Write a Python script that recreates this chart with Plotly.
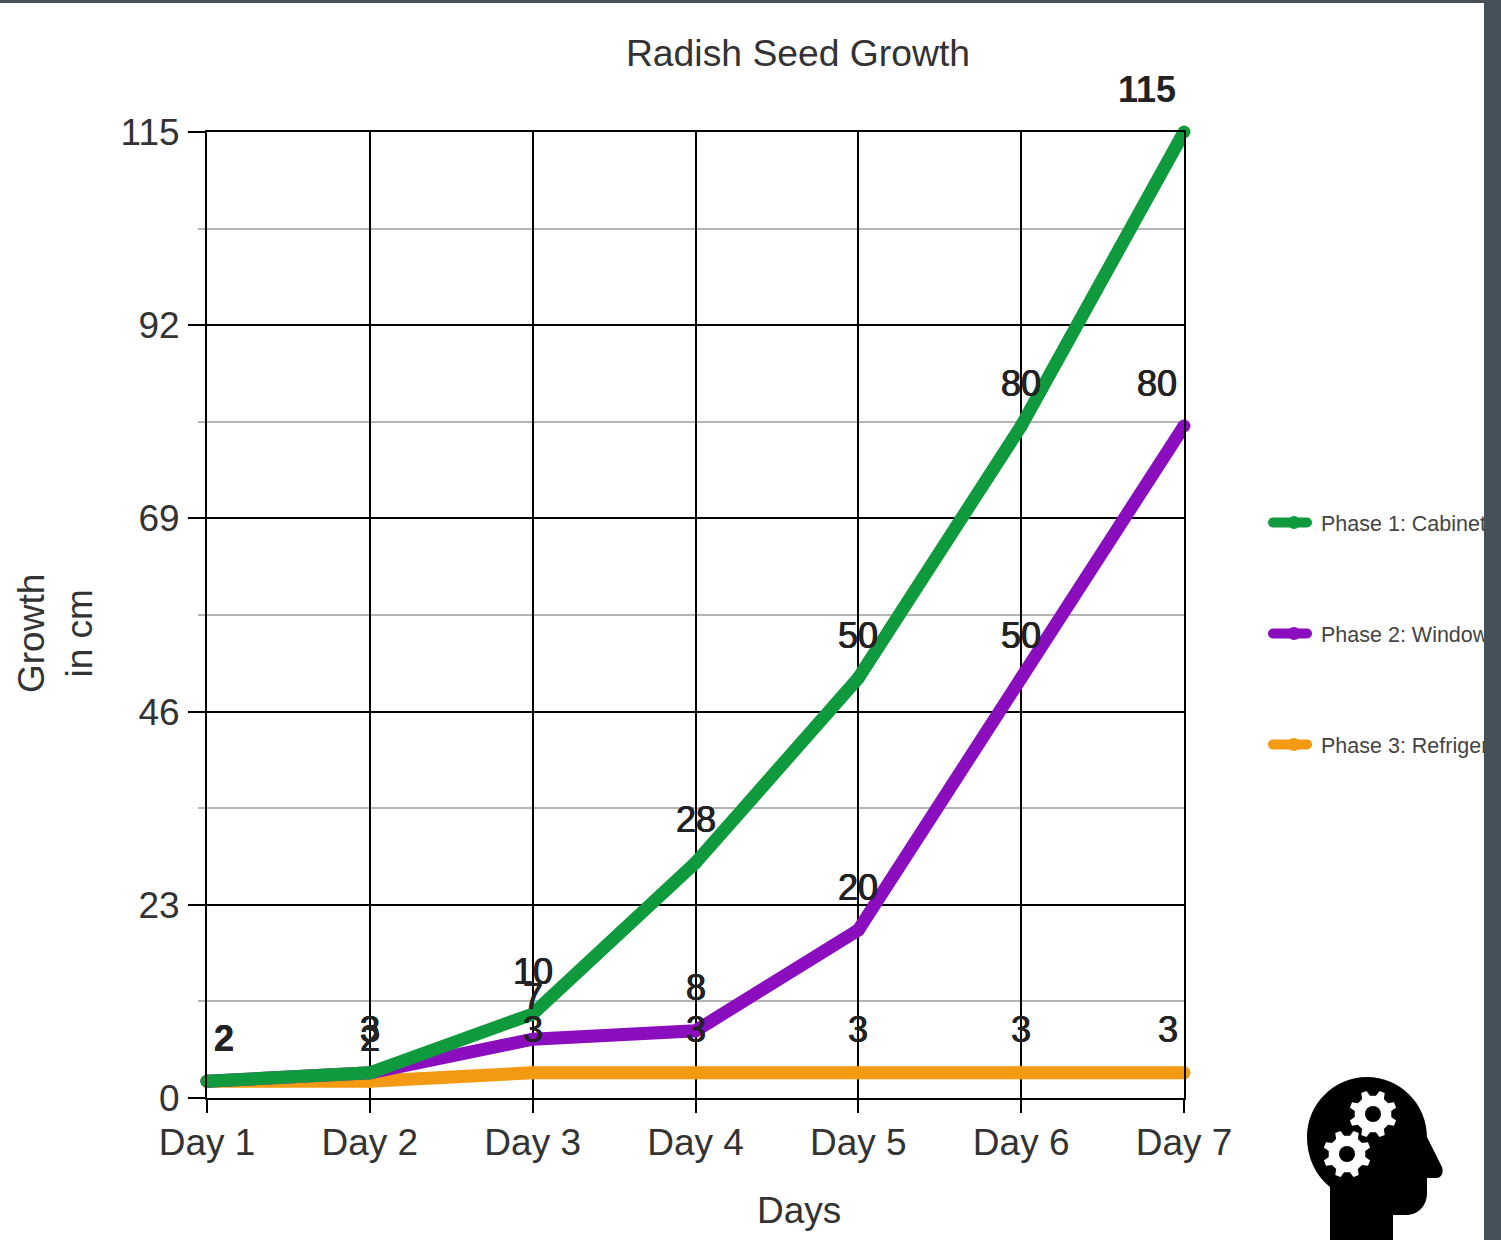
import math
import plotly.graph_objects as go

days = ["Day 1", "Day 2", "Day 3", "Day 4", "Day 5", "Day 6", "Day 7"]
cabinet = [2, 3, 10, 28, 50, 80, 115]
window = [2, 3, 7, 8, 20, 50, 80]
refrigerator = [2, 2, 3, 3, 3, 3, 3]
y_ticks = [0, 23, 46, 69, 92, 115]

GREEN, PURPLE, ORANGE = "#0F9A3E", "#8A0DBE", "#F39A12"
TXT = "#333333"
FRAME = "#455158"
FONT = "Liberation Sans"
W, H = 1484, 1240
L, R, T, B = 207, 1184, 132, 1098

fx = lambda x: (x - L) / (R - L)
fy = lambda y: (B - y) / (B - T)


def path(cmds):
    return " ".join(
        c if isinstance(c, str) else f"{fx(c[0]):.5f},{fy(c[1]):.5f}" for c in cmds
    )


def gear(cx, cy, ro, ri, n=8):
    pts = []
    for i in range(n):
        a = 2 * math.pi * (i + 0.5) / n
        step = 2 * math.pi / n
        for off, r in [(-0.30, ri), (-0.15, ro), (0.15, ro), (0.30, ri)]:
            t = a + off * step
            pts.append((cx + r * math.cos(t), cy + r * math.sin(t)))
    return "M" + " L".join(f"{fx(x):.5f},{fy(y):.5f}" for x, y in pts) + " Z"


def disc(cx, cy, r, color):
    return dict(type="circle", xref="paper", yref="paper",
                x0=fx(cx - r), x1=fx(cx + r), y0=fy(cy + r), y1=fy(cy - r),
                fillcolor=color, line_width=0, layer="above")


head = path(["M", (1330, 1240), "L", (1330, 1187),
             "C", (1315, 1175), (1307, 1157), (1307, 1137),
             "C", (1307, 1104), (1334, 1077), (1367, 1077),
             "C", (1400, 1077), (1427, 1104), (1427, 1137),
             "L", (1442, 1167),
             "C", (1444, 1173), (1441, 1178), (1436, 1178),
             "L", (1427, 1178), "L", (1427, 1193),
             "C", (1427, 1206), (1418, 1215), (1406, 1215),
             "L", (1393, 1215), "L", (1393, 1240), "Z"])

shapes = [
    dict(type="rect", xref="paper", yref="paper", x0=fx(0), x1=fx(W), y0=fy(3), y1=fy(0),
         fillcolor=FRAME, line_width=0, layer="above"),
    dict(type="path", xref="paper", yref="paper", path=head, fillcolor="#000000",
         line_width=0, layer="above"),
    dict(type="path", xref="paper", yref="paper", path=gear(1373, 1114, 24, 18.5),
         fillcolor="#FFFFFF", line_width=0, layer="above"),
    dict(type="path", xref="paper", yref="paper", path=gear(1347, 1154, 24, 18.5),
         fillcolor="#FFFFFF", line_width=0, layer="above"),
    disc(1373, 1114, 8, "#000000"),
    disc(1347, 1154, 8, "#000000"),
]

fig = go.Figure()
series = [
    ("Phase 3: Refrigerator", refrigerator, ORANGE),
    ("Phase 2: Window", window, PURPLE),
    ("Phase 1: Cabinet", cabinet, GREEN),
]
for name, vals, col in series:
    fig.add_trace(go.Scatter(x=days, y=vals, name=name, mode="lines+markers",
                             legendgroup=name, cliponaxis=False,
                             legendrank={ORANGE: 3, PURPLE: 2, GREEN: 1}[col],
                             line=dict(color=col, width=13),
                             marker=dict(color=col, size=13, line_width=0),
                             hoverinfo="skip"))

annotations = []
for name, vals, col in series:
    for i, (d, v) in enumerate(zip(days, vals)):
        xs = 0
        if i == 0:
            xs = 17
        elif i == 6:
            xs = {115: -37, 80: -27, 3: -16}[v]
        heavy = v == 115 or i == 0
        annotations.append(dict(
            x=d, y=v, xref="x", yref="y", text=str(v), showarrow=False,
            xshift=xs, yshift=43, yanchor="middle", xanchor="center",
            font=dict(family=FONT, size=36, color="#222222",
                      weight="bold" if heavy else "normal",
                      shadow="none" if heavy else "0.5px 0 0 #222222, -0.5px 0 0 #222222")))
annotations += [
    dict(xref="paper", yref="paper", x=fx(799), y=fy(1210), text="Days", showarrow=False,
         xanchor="center", yanchor="middle", font=dict(family=FONT, size=37, color=TXT)),
    dict(xref="paper", yref="paper", x=fx(55), y=fy(634), text="Growth<br>in cm", showarrow=False,
         textangle=-90, xanchor="center", yanchor="middle", font=dict(family=FONT, size=37, color=TXT)),
]

fig.update_layout(
    width=W, height=H, autosize=False,
    paper_bgcolor="#FFFFFF", plot_bgcolor="#FFFFFF",
    margin=dict(l=L, r=W - R, t=T, b=H - B, autoexpand=False),
    font=dict(family=FONT, color=TXT),
    title=dict(text="Radish Seed Growth", x=798 / W, xanchor="center", y=1 - 53 / H, yanchor="middle",
               font=dict(family=FONT, size=37.3, color=TXT)),
    xaxis=dict(type="category", categoryorder="array", categoryarray=days, range=[0, 6],
               showgrid=True, gridcolor="#000000", gridwidth=2, zeroline=False,
               ticks="outside", ticklen=13, tickwidth=2, tickcolor="#000000",
               ticklabelstandoff=-2,
               showline=True, linecolor="#000000", linewidth=2, mirror=True,
               tickfont=dict(family=FONT, size=37, color=TXT)),
    yaxis=dict(range=[0, 115], tickvals=y_ticks, showgrid=True, gridcolor="#000000", gridwidth=2,
               zeroline=False, ticks="outside", ticklen=17, tickwidth=2, tickcolor="#000000",
               ticklabelstandoff=1,
               showline=True, linecolor="#000000", linewidth=2, mirror=True,
               tickfont=dict(family=FONT, size=37, color=TXT),
               minor=dict(dtick=11.5, tick0=0, showgrid=True, gridcolor="#B5B5B5", gridwidth=2,
                          ticks="outside", ticklen=7, tickcolor="#B5B5B5", tickwidth=2)),
    legend=dict(x=1267 / W, xref="container", y=1 - 502 / H, yref="container", xanchor="left", yanchor="top",
                font=dict(family=FONT, size=21.5, color="#444444"), tracegroupgap=80, itemwidth=44,
                bgcolor="rgba(0,0,0,0)", borderwidth=0),
    annotations=annotations,
    shapes=shapes,
    hovermode=False,
)

post = f"""
document.documentElement.style.background='{FRAME}';
document.body.style.background='{FRAME}';
document.body.style.margin='0';
document.body.style.overflow='hidden';
var gd = document.querySelector('.plotly-graph-div');
function polish() {{
  gd.querySelectorAll('.legendlines path').forEach(function(p) {{
    p.style.strokeLinecap = 'round'; p.setAttribute('d', 'M6,0h34');
  }});
}}
polish();
gd.on('plotly_afterplot', polish);
"""
fig.write_html("out.html", post_script=post, config={"displayModeBar": False, "responsive": False})
